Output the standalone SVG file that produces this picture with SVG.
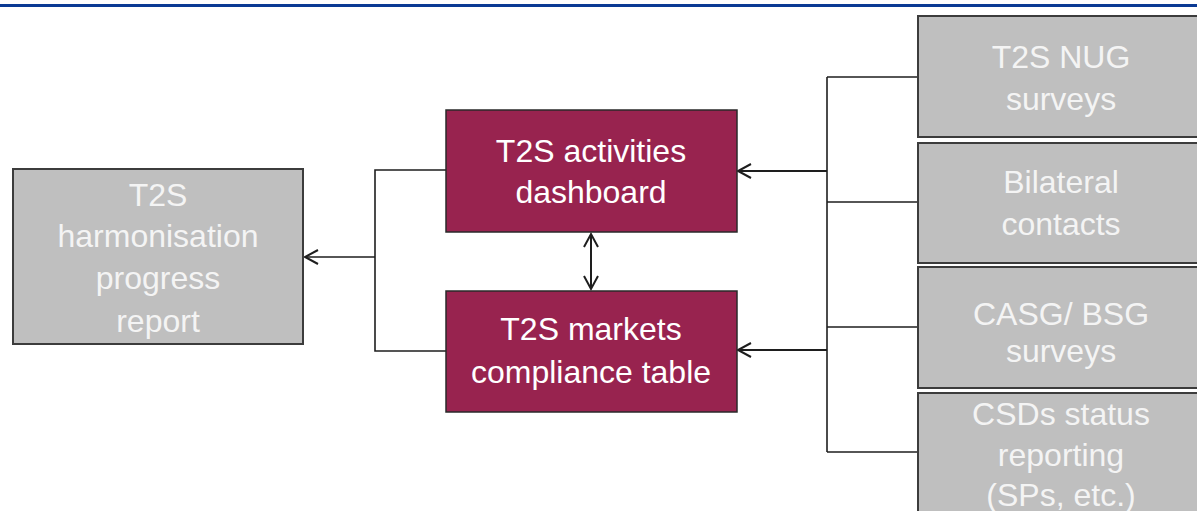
<svg xmlns="http://www.w3.org/2000/svg" width="1197" height="511" viewBox="0 0 1197 511">
<style>
.gray{fill:#bfbfbf;stroke:#3c3c3c;stroke-width:2}
.mag{fill:#98234f;stroke:#2a2a2a;stroke-width:1.5}
.t{font-family:"Liberation Sans",Arial,sans-serif;font-size:32px;text-anchor:middle}
.tg{fill:#f4f4f4}
.tm{fill:#ffffff}
.c{fill:none;stroke:#1e1e1e;stroke-width:1.6}
.ca{fill:none;stroke:#1e1e1e;stroke-width:2}
</style>
<defs>
<marker id="arr" viewBox="0 0 20 20" refX="17" refY="10" markerWidth="20" markerHeight="20" orient="auto-start-reverse" markerUnits="userSpaceOnUse">
<path d="M4,3 L17,10 L4,17" fill="none" stroke="#1e1e1e" stroke-width="2"/>
</marker>
</defs>
<rect x="0" y="4" width="1197" height="3" fill="#0b3a94"/>
<g id="connectors">
<path class="c" d="M446,170 H375 V351 H446"/>
<path class="c" d="M375,257 H305" marker-end="url(#arr)"/>
<path class="c" d="M827,77 V452"/>
<path class="c" d="M918,77 H827"/>
<path class="c" d="M918,202 H827"/>
<path class="c" d="M918,327 H827"/>
<path class="c" d="M918,452 H827"/>
<path class="ca" d="M827,171 H738" marker-end="url(#arr)"/>
<path class="ca" d="M827,350 H738" marker-end="url(#arr)"/>
<path class="ca" d="M591,234 V289" marker-start="url(#arr)" marker-end="url(#arr)"/>
</g>
<g id="report">
<rect class="gray" x="13" y="169" width="290" height="175"/>
<text class="t tg" x="158" y="206">T2S</text>
<text class="t tg" x="158" y="247">harmonisation</text>
<text class="t tg" x="158" y="289">progress</text>
<text class="t tg" x="158" y="332">report</text>
</g>
<g id="dashboard">
<rect class="mag" x="446" y="110" width="291" height="122"/>
<text class="t tm" x="591" y="162">T2S activities</text>
<text class="t tm" x="591" y="203">dashboard</text>
</g>
<g id="compliance">
<rect class="mag" x="446" y="291" width="291" height="121"/>
<text class="t tm" x="591" y="340">T2S markets</text>
<text class="t tm" x="591" y="383">compliance table</text>
</g>
<g id="nug">
<rect class="gray" x="918" y="16" width="290" height="121"/>
<text class="t tg" x="1061" y="68">T2S NUG</text>
<text class="t tg" x="1061" y="110">surveys</text>
</g>
<g id="bilateral">
<rect class="gray" x="918" y="143" width="290" height="120"/>
<text class="t tg" x="1061" y="193">Bilateral</text>
<text class="t tg" x="1061" y="235">contacts</text>
</g>
<g id="casg">
<rect class="gray" x="918" y="267" width="290" height="121"/>
<text class="t tg" x="1061" y="325">CASG/ BSG</text>
<text class="t tg" x="1061" y="362">surveys</text>
</g>
<g id="csds">
<rect class="gray" x="918" y="393" width="290" height="130"/>
<text class="t tg" x="1061" y="425">CSDs status</text>
<text class="t tg" x="1061" y="466">reporting</text>
<text class="t tg" x="1061" y="506">(SPs, etc.)</text>
</g>
</svg>
